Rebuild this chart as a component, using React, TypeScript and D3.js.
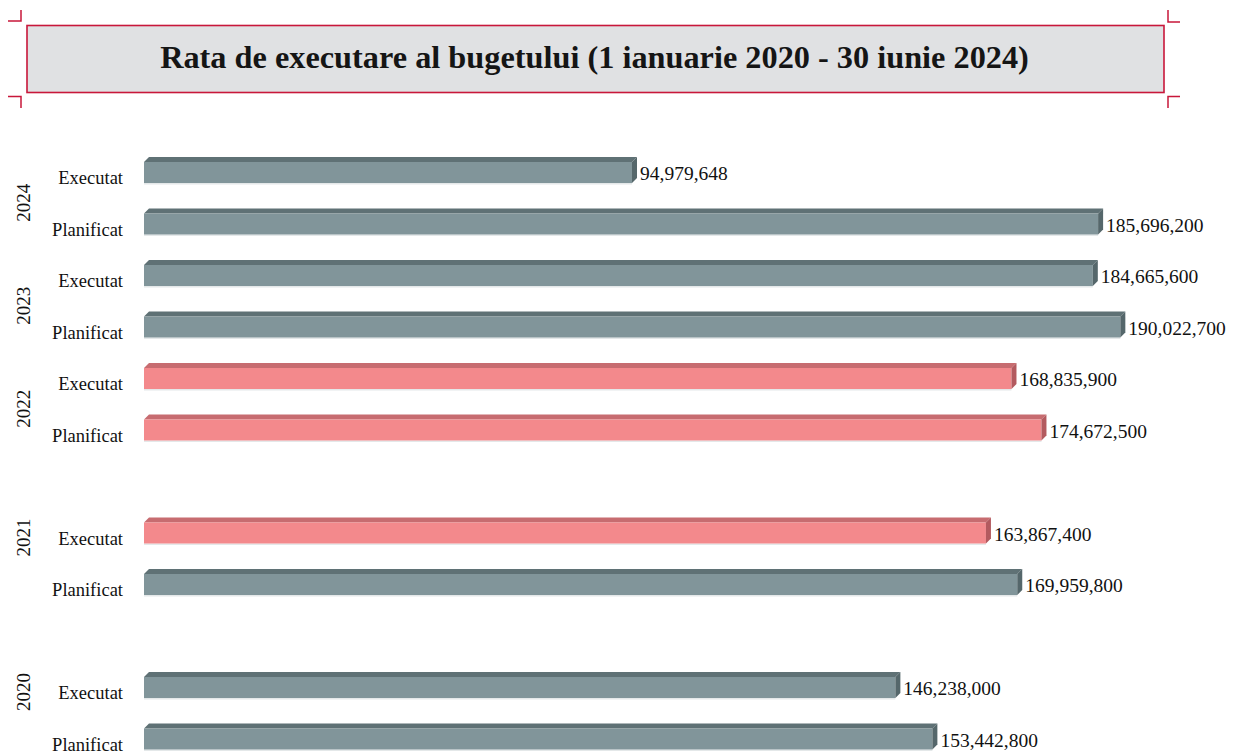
import React from "react";
import * as d3 from "d3";

const title = "Rata de executare al bugetului (1 ianuarie 2020 - 30 iunie 2024)";

// Rows from top to bottom (blank rows are empty categories in the source chart)
const rowYear = ["2024", "2024", "2023", "2023", "2022", "2022", "2021", "2021", "2021", "2020", "2020", "2020"];
const rowLabel = ["Executat", "Planificat", "Executat", "Planificat", "Executat", "Planificat", "", "Executat", "Planificat", "", "Executat", "Planificat"];
const rowValue: (number | null)[] = [94979648, 185696200, 184665600, 190022700, 168835900, 174672500, null, 163867400, 169959800, null, 146238000, 153442800];
const rowHighlight = [false, false, false, false, true, true, false, true, false, false, false, false];
const years = ["2024", "2023", "2022", "2021", "2020"];
const axisMax = 200000000;

const W = 1235;
const H = 753;
const FONT = "'Liberation Serif', 'Times New Roman', serif";

const GRAY = { front: "#81959a", top: "#5f7175", side: "#55676b" };
const PINK = { front: "#f3898c", top: "#c76c70", side: "#b35a5f" };

export default function App() {
  const x = d3.scaleLinear().domain([0, axisMax]).range([144, 144 + 1027.6]);
  const step = 51.5;
  const bandH = 26;
  const p = 1 - bandH / step;
  const y = d3
    .scaleBand<number>()
    .domain(d3.range(rowValue.length))
    .range([157 - (step * p) / 2, 157 - (step * p) / 2 + step * rowValue.length])
    .paddingInner(p)
    .paddingOuter(p / 2);
  const depth = 5;
  const fmt = d3.format(",");

  const corner = "#c8173a";

  return (
    <svg width={W} height={H} style={{ position: "absolute", left: 0, top: 0, background: "#fff" }}>
      {/* title box */}
      <rect x={27} y={25.5} width={1137} height={67} fill="#e0e1e3" stroke={corner} strokeWidth={1.6} />
      <g stroke={corner} strokeWidth={1.5} fill="none">
        <polyline points="8,21 21,21 21,10" />
        <polyline points="8,96.5 21,96.5 21,108" />
        <polyline points="1180,22 1168,22 1168,10" />
        <polyline points="1180,96.5 1168,96.5 1168,108" />
      </g>
      <text
        x={594.5}
        y={68}
        textAnchor="middle"
        fontFamily={FONT}
        fontWeight="bold"
        fontSize={32.3}
        fill="#151515"
      >
        {title}
      </text>

      {/* bars */}
      {rowValue.map((v, i) => {
        if (v == null) return null;
        const c = rowHighlight[i] ? PINK : GRAY;
        const y0 = y(i)!;
        const fy = y0 + depth;
        const h = y.bandwidth() - depth;
        const x0 = x(0);
        const xv = x(v);
        return (
          <g key={i}>
            <rect x={x0} y={fy + h} width={xv - x0} height={1.5} fill="#e4e8e9" />
            <polygon
              points={`${x0},${fy} ${x0 + depth},${y0} ${xv + depth},${y0} ${xv},${fy}`}
              fill={c.top}
            />
            <rect x={x0} y={fy} width={xv - x0} height={h} fill={c.front} />
            <polygon
              points={`${xv},${fy} ${xv + depth},${y0} ${xv + depth},${fy + h - depth} ${xv},${fy + h}`}
              fill={c.side}
            />
            <text x={xv + depth + 3} y={fy + 18} fontFamily={FONT} fontSize={19.5} fill="#111">
              {fmt(v)}
            </text>
          </g>
        );
      })}

      {/* category labels */}
      {rowLabel.map((l, i) =>
        l ? (
          <text key={i} x={123} y={y(i)! + depth + 22} textAnchor="end" fontFamily={FONT} fontSize={18.5} fill="#111">
            {l}
          </text>
        ) : null
      )}

      {/* year labels */}
      {years.map((yr) => {
        const idx = d3.range(rowYear.length).filter((i) => rowYear[i] === yr);
        const cy = d3.mean(idx, (i) => y(i)! + depth + (y.bandwidth() - depth) / 2)! + 4.5;
        return (
          <text
            key={yr}
            transform={`translate(29.5,${cy}) rotate(-90)`}
            textAnchor="middle"
            fontFamily={FONT}
            fontSize={19}
            fill="#111"
          >
            {yr}
          </text>
        );
      })}
    </svg>
  );
}
